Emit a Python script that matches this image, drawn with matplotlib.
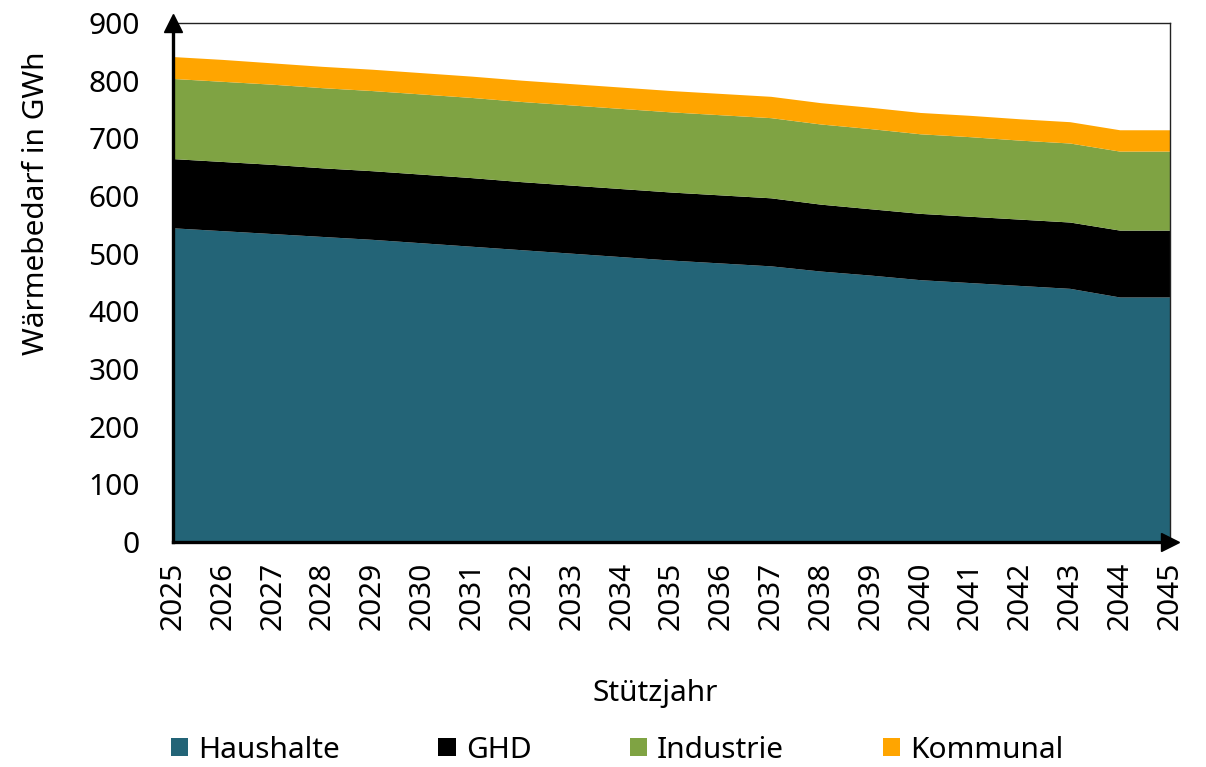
import matplotlib
matplotlib.use("Agg")
import matplotlib.pyplot as plt
from matplotlib.patches import Patch

plt.rcParams["font.family"] = ["Noto Sans", "DejaVu Sans"]
plt.rcParams["font.size"] = 21.5

# values (GWh)
years = list(range(2025, 2046))
haushalte = [544, 539, 534, 529, 524, 518, 512, 506, 500, 494, 488,
             483, 478, 469, 462, 454, 449, 444, 439, 424, 424]
ghd = [120, 120, 120, 119, 119, 119, 119, 118, 118, 118, 118,
       118, 118, 116, 115, 115, 115, 115, 115, 116, 116]
industrie = [139, 139, 139, 139, 139, 139, 139, 139, 139, 139, 139,
             139, 139, 139, 139, 138, 138, 137, 137, 137, 137]
kommunal = [38, 38, 37, 37, 37, 37, 37, 37, 37, 37, 37,
            37, 37, 37, 37, 37, 37, 37, 37, 37, 37]

labels = ["Haushalte", "GHD", "Industrie", "Kommunal"]
colors = ["#236477", "#000000", "#7FA343", "#FFA500"]

W, H = 1206, 767
fig = plt.figure(figsize=(W / 100, H / 100), dpi=100)
ax = fig.add_axes([173 / W, 1 - 542 / H, (1170 - 173) / W, (542 - 23) / H])

ax.stackplot(years, haushalte, ghd, industrie, kommunal,
             colors=colors, linewidth=0)

ax.set_xlim(2025, 2045)
ax.set_ylim(0, 900)
ax.set_xticks(years)
ax.set_xticklabels([str(y) for y in years], rotation=90)
ax.set_yticks(range(0, 901, 100))
ax.tick_params(axis="x", length=0, pad=14)
ax.tick_params(axis="y", length=0, pad=24)

# frame: thick axes with arrows, thin top/right
for side in ("left", "bottom"):
    ax.spines[side].set_linewidth(2.4)
    ax.spines[side].set_zorder(5)
for side in ("top", "right"):
    ax.spines[side].set_linewidth(1.0)
    ax.spines[side].set_color("#222222")

ax.plot(0, 1, marker="^", markersize=13, color="black",
        transform=ax.transAxes, clip_on=False, zorder=6)
ax.plot(1, 0, marker=">", markersize=13, color="black",
        transform=ax.transAxes, clip_on=False, zorder=6)

fig.text(37 / W, 1 - 203 / H, "Wärmebedarf in GWh", rotation=90,
         ha="center", va="center")
fig.text(655 / W, 1 - 693 / H, "Stützjahr", ha="center", va="center")

handles = [Patch(facecolor=c, edgecolor="none") for c in colors]
fig.legend(handles, labels, loc="center left", ncol=4,
           bbox_to_anchor=(171 / W, 1 - 750 / H), frameon=False,
           borderpad=0, borderaxespad=0, handlelength=0.58,
           handleheight=0.58, handletextpad=0.33, columnspacing=3.3)

fig.savefig("out.png", dpi=100)
